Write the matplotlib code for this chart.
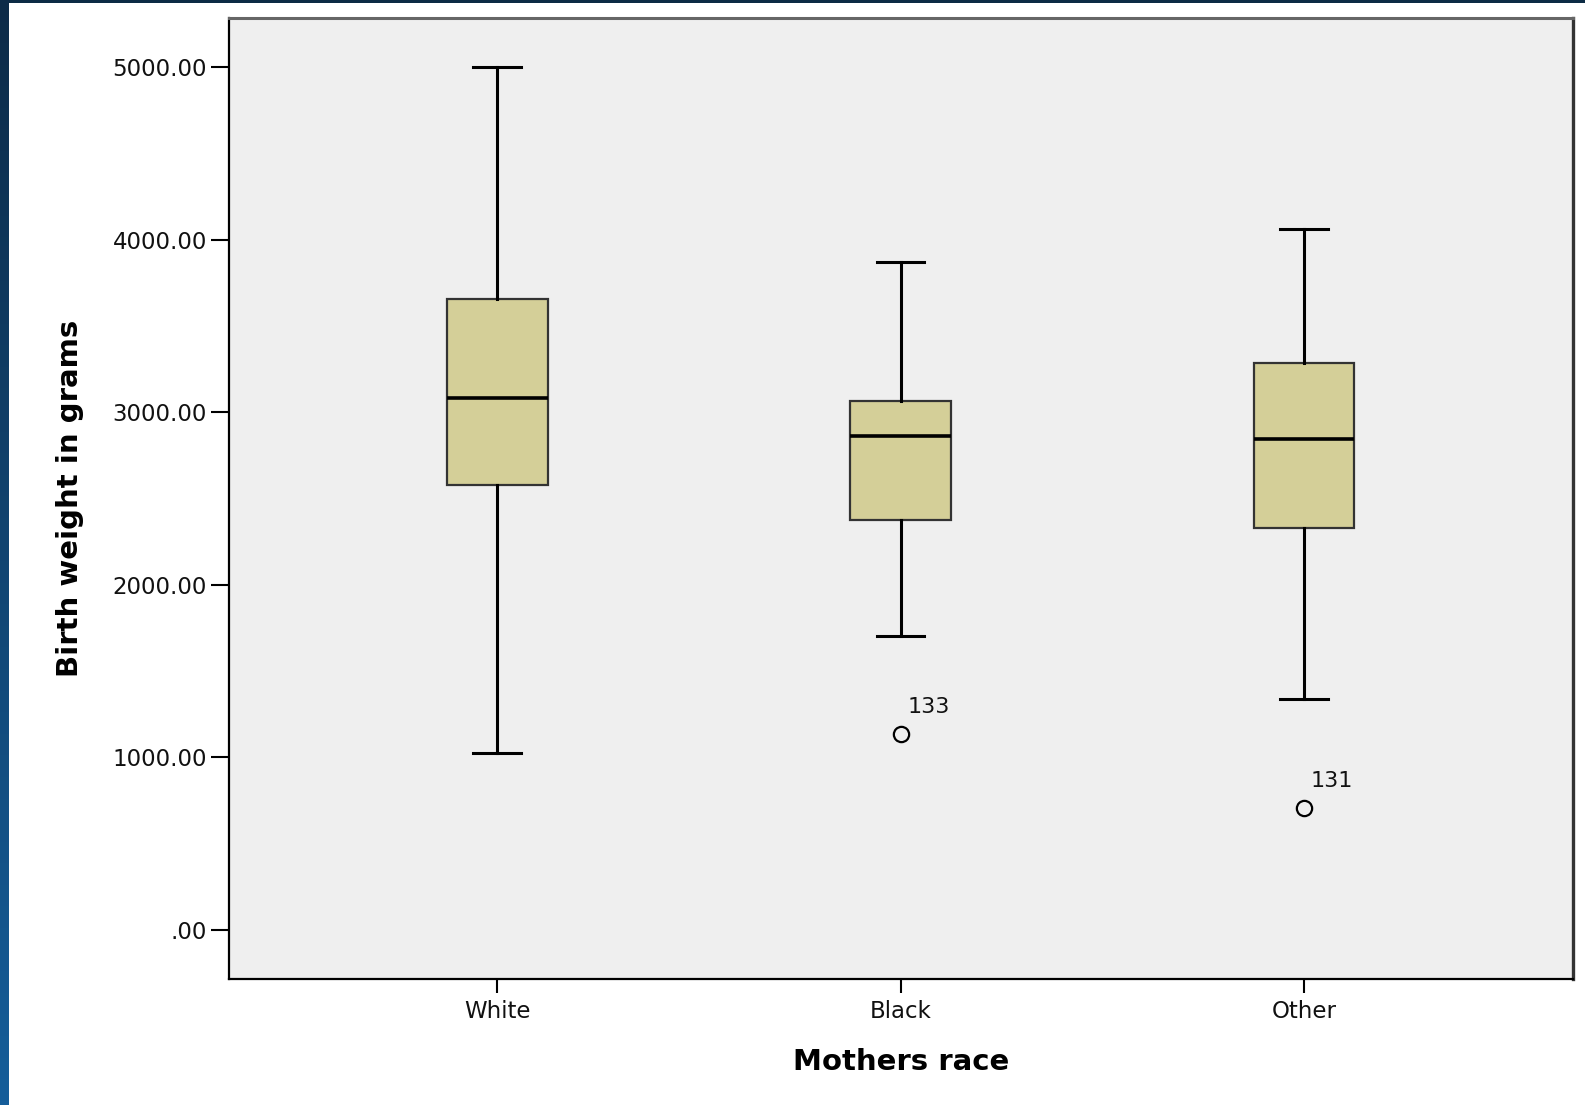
import matplotlib
matplotlib.use("Agg")
import matplotlib.pyplot as plt
import numpy as np
from matplotlib.colors import LinearSegmentedColormap

# ---- data ----
categories = ["White", "Black", "Other"]
whisker_low = [1026, 1706, 1336]
q1 = [2579, 2374, 2327]
median = [3083, 2860, 2843]
q3 = [3658, 3066, 3283]
whisker_high = [5000, 3869, 4062]
outlier_values = [[], [1137], [709]]
outlier_ids = [[], ["133"], ["131"]]
ytick_values = [0, 1000, 2000, 3000, 4000, 5000]
ytick_labels = [".00", "1000.00", "2000.00", "3000.00", "4000.00", "5000.00"]
xlabel = "Mothers race"
ylabel = "Birth weight in grams"

W, H = 1585, 1105
fig = plt.figure(figsize=(W / 100, H / 100), dpi=100)
fig.patch.set_facecolor("white")

# dark frame: top band and left gradient band
top = fig.add_axes([0, 1 - 3 / H, 1, 3 / H])
top.set_axis_off()
top.add_patch(plt.Rectangle((0, 0), 1, 1, color="#0c2b45", transform=top.transAxes))
left = fig.add_axes([0, 0, 9 / W, 1])
left.set_axis_off()
grad = np.linspace(0, 1, 256).reshape(-1, 1)
cmap = LinearSegmentedColormap.from_list("frame", ["#0d2b48", "#165e9a"])
left.imshow(grad, aspect="auto", cmap=cmap, extent=[0, 1, 1, 0])

ax = fig.add_axes([229 / W, 1 - 979 / H, (1573 - 229) / W, (979 - 18) / H])
ax.set_facecolor("#efefef")

positions = np.arange(1, len(categories) + 1)
stats = []
for i, c in enumerate(categories):
    stats.append(dict(label=c, whislo=whisker_low[i], q1=q1[i], med=median[i],
                      q3=q3[i], whishi=whisker_high[i], fliers=outlier_values[i]))

ax.bxp(stats, positions=positions, widths=0.25, capwidths=0.118, patch_artist=True,
       boxprops=dict(facecolor="#d4cf98", edgecolor="#333333", linewidth=1.6),
       medianprops=dict(color="black", linewidth=2.6),
       whiskerprops=dict(color="black", linewidth=2.2),
       capprops=dict(color="black", linewidth=2.2),
       flierprops=dict(marker="o", markerfacecolor="none", markeredgecolor="black",
                       markersize=11, markeredgewidth=1.6))

for i in range(len(categories)):
    for v, lab in zip(outlier_values[i], outlier_ids[i]):
        ax.annotate(lab, xy=(positions[i], v), xytext=(5, 19.5), textcoords="offset points",
                    ha="left", va="center", fontsize=16, color="#111111")

ax.set_xlim(0.335, 3.667)
ax.set_ylim(-284, 5284)
ax.set_yticks(ytick_values)
ax.set_yticklabels(ytick_labels)
ax.set_xticks(positions)
ax.set_xticklabels(categories)

ax.tick_params(axis="y", direction="out", length=13, width=1.5, pad=3,
               labelsize=16.5, colors="black", labelcolor="#111111")
ax.tick_params(axis="x", direction="out", length=10, width=1.5, pad=5,
               labelsize=16.5, colors="black", labelcolor="#111111")

for s in ["left", "bottom"]:
    ax.spines[s].set_color("black")
    ax.spines[s].set_linewidth(1.6)
ax.spines["top"].set_color("#666666")
ax.spines["top"].set_linewidth(2.2)
ax.spines["right"].set_color("#333333")
ax.spines["right"].set_linewidth(2.4)

ax.set_xlabel(xlabel, fontsize=21, fontweight="bold")
ax.set_ylabel(ylabel, fontsize=21, fontweight="bold")
ax.yaxis.set_label_coords((84 - 229) / (1573 - 229), 0.5)
ax.xaxis.set_label_coords(0.5, -(1048 - 979) / (979 - 18))

fig.savefig("out.png", dpi=100, facecolor="white")
